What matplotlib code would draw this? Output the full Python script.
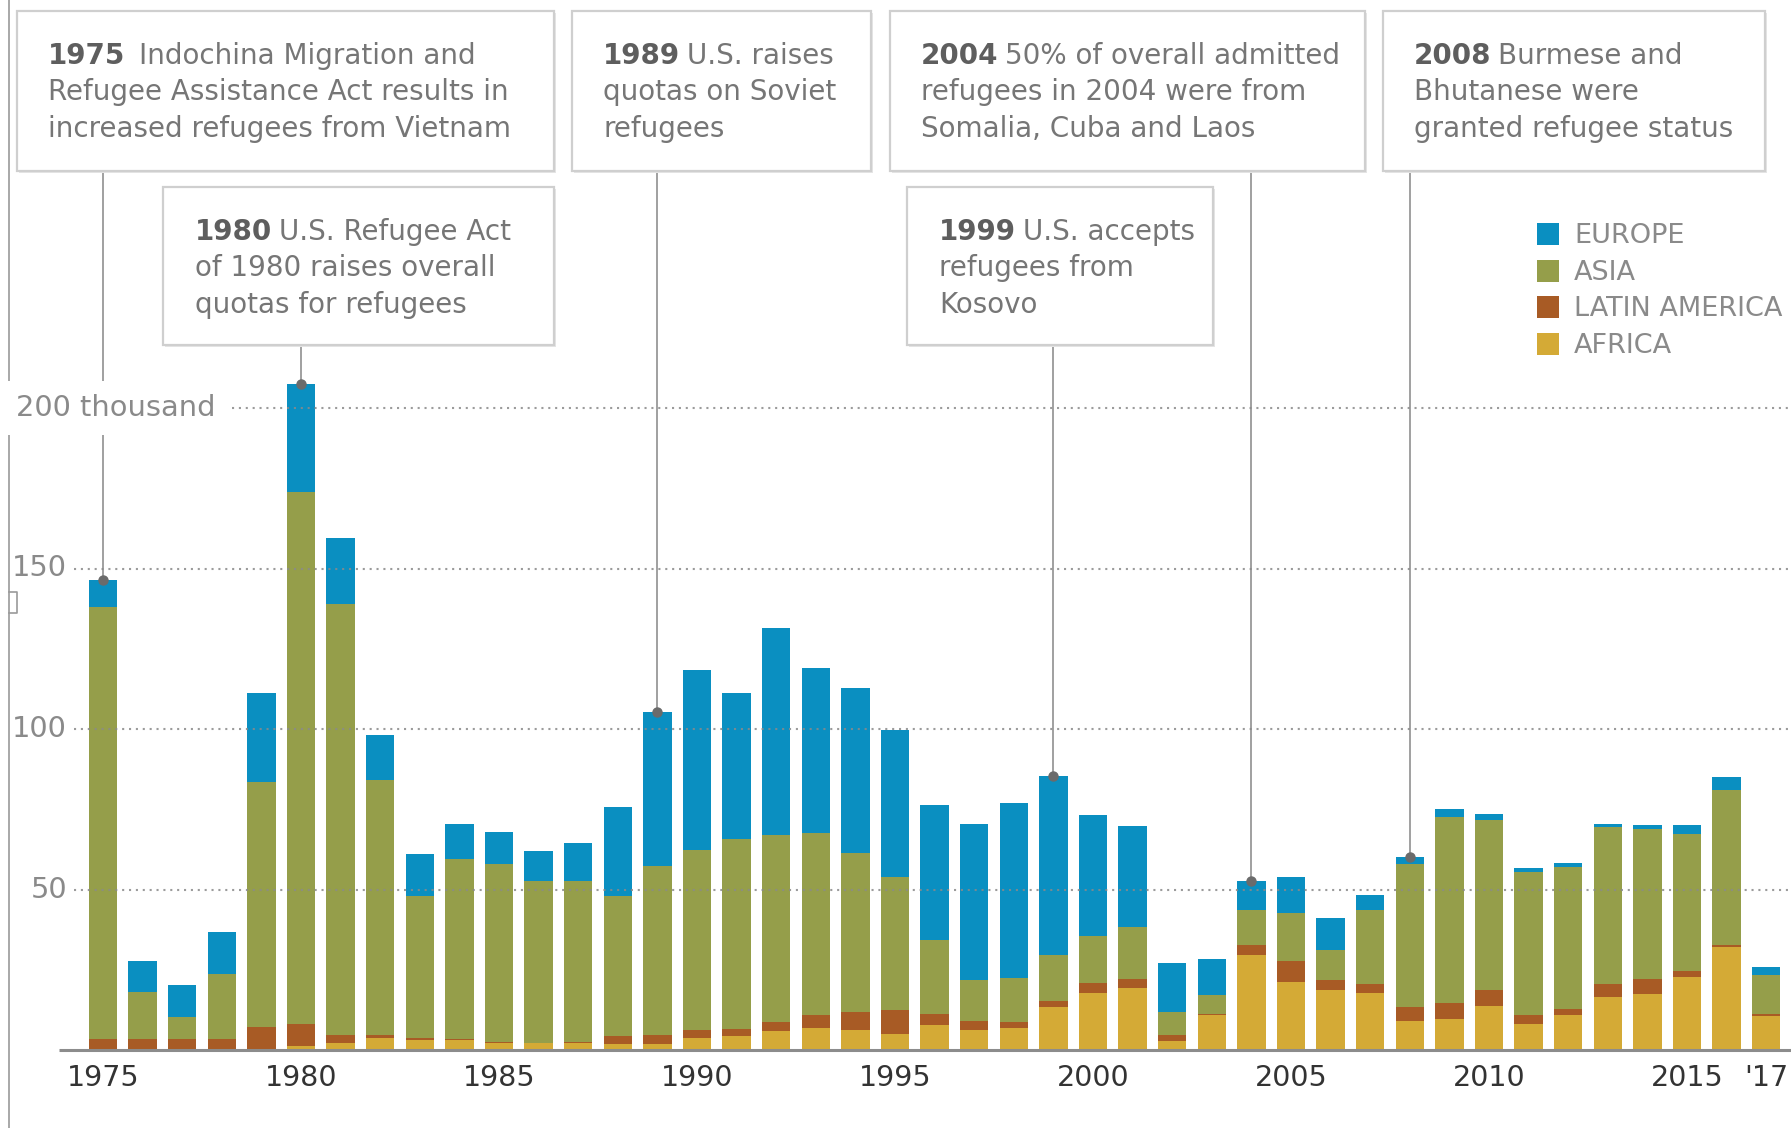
import matplotlib.pyplot as plt
from matplotlib.patches import Rectangle

# U.S. refugee admissions by region (thousands)
years = list(range(1975, 2018))
africa = [0, 0, 0, 0, 0, 1.2, 2.3, 3.8, 3.1, 3.1, 2.3, 2.1, 2.1, 1.9, 2.0,
          3.7, 4.5, 5.8, 7.0, 6.1, 5.0, 7.9, 6.3, 7.0, 13.4, 17.8, 19.2, 2.9,
          11.0, 29.5, 21.2, 18.6, 17.8, 9.0, 9.8, 13.7, 8.1, 10.9, 16.4, 17.6,
          22.8, 32.1, 10.6]
latin = [3.4, 3.4, 3.4, 3.4, 7.2, 6.8, 2.3, 0.8, 0.7, 0.2, 0.1, 0.1, 0.3, 2.5,
         2.7, 2.4, 2.1, 2.8, 4.0, 5.7, 7.6, 3.3, 2.8, 1.6, 1.8, 3.1, 2.8, 1.8,
         0.3, 3.3, 6.5, 3.3, 2.9, 4.5, 4.9, 4.9, 2.8, 2.0, 4.3, 4.4, 1.8, 0.7,
         0.5]
asia = [134.5, 14.7, 7.0, 20.4, 76.3, 165.8, 134.4, 79.6, 44.3, 56.2, 55.4,
        50.6, 50.1, 43.5, 52.6, 56.2, 59.1, 58.4, 56.7, 49.5, 41.3, 23.0, 12.7,
        13.9, 14.3, 14.5, 16.2, 7.1, 5.8, 10.7, 15.0, 9.2, 23.0, 44.3, 58.0,
        53.1, 44.5, 44.2, 48.9, 46.8, 42.7, 48.3, 12.4]
europe = [8.4, 9.5, 9.8, 12.9, 27.7, 33.6, 20.5, 13.9, 13.0, 10.9, 10.0, 9.3,
          12.0, 27.7, 48.1, 56.2, 45.6, 64.6, 51.4, 51.5, 45.9, 42.0, 48.6,
          54.3, 56.0, 37.7, 31.6, 15.4, 11.4, 9.3, 11.1, 10.1, 4.6, 2.4, 2.4,
          1.8, 1.3, 1.1, 0.8, 1.4, 2.9, 4.0, 2.4]

region_names = ['EUROPE', 'ASIA', 'LATIN AMERICA', 'AFRICA']
region_colors = ['#0a8fc1', '#959e4a', '#a85b25', '#d4aa36']

tick_years = [1975, 1980, 1985, 1990, 1995, 2000, 2005, 2010, 2015, 2017]
tick_labels = ['1975', '1980', '1985', '1990', '1995', '2000', '2005', '2010',
               '2015', "'17"]
grid_values = [50, 100, 150, 200]
grid_labels = ['50', '100', '150', '200 thousand']

# annotation: year, bold part, lines, box (left, top, right, bottom) in px
notes = [
    (1975, '1975', ['Indochina Migration and',
                    'Refugee Assistance Act results in',
                    'increased refugees from Vietnam'], (17, 11, 554, 171)),
    (1980, '1980', ['U.S. Refugee Act', 'of 1980 raises overall',
                    'quotas for refugees'], (163, 187, 554, 345)),
    (1989, '1989', ['U.S. raises', 'quotas on Soviet', 'refugees'],
     (572, 11, 871, 171)),
    (2004, '2004', ['50% of overall admitted', 'refugees in 2004 were from',
                    'Somalia, Cuba and Laos'], (890, 11, 1365, 171)),
    (1999, '1999', ['U.S. accepts', 'refugees from', 'Kosovo'],
     (907, 187, 1213, 345)),
    (2008, '2008', ['Burmese and', 'Bhutanese were',
                    'granted refugee status'], (1383, 11, 1765, 171)),
]

W, H = 1791, 1128
fig = plt.figure(figsize=(W / 100, H / 100), dpi=100)
ax = fig.add_axes([0, 0, 1, 1])
PX_YEAR = 39.6
PX_UNIT = 3.21
X0 = 1975 - 103 / PX_YEAR
ax.set_xlim(X0, X0 + W / PX_YEAR)
ax.set_ylim(-(H - 1050) / PX_UNIT, 1050 / PX_UNIT)
ax.axis('off')


def px_x(px):
    return X0 + px / PX_YEAR


def px_y(py):
    return (1050 - py) / PX_UNIT


# stacked bars
bottom = [0.0] * len(years)
for vals, col in zip([africa, latin, asia, europe], region_colors[::-1]):
    ax.bar(years, vals, width=0.72, bottom=bottom, color=col, zorder=2,
           linewidth=0)
    bottom = [b + v for b, v in zip(bottom, vals)]
totals = bottom

# baseline and dotted grid
ax.plot([px_x(59), px_x(W)], [0, 0], color='#8c8c8c', lw=2.2, zorder=4,
        solid_capstyle='butt')
for v, lab in zip(grid_values, grid_labels):
    start = px_x(232) if v == 200 else px_x(74)
    ax.plot([start, px_x(W)], [v, v], color='#8a8a8a', lw=1.5,
            linestyle=(0, (1, 2.3)), zorder=3, alpha=0.85)
    if v == 200:
        ax.text(px_x(16), v, lab, ha='left', va='center', fontsize=20.8,
                color='#8a8a8a', zorder=6,
                bbox=dict(boxstyle='square,pad=0.45', fc='white', ec='none'))
    else:
        ax.text(px_x(67), v, lab, ha='right', va='center', fontsize=20.8,
                color='#8a8a8a', zorder=6)

for yr, lab in zip(tick_years, tick_labels):
    ax.text(yr, px_y(1078), lab, ha='center', va='center', fontsize=20.5,
            color='#333333')

# left frame line with small notch
ax.plot([px_x(9), px_x(9)], [px_y(0), px_y(H)], color='#9a9a9a', lw=1.2,
        zorder=1)
ax.plot([px_x(9), px_x(17), px_x(17), px_x(9)],
        [px_y(592), px_y(592), px_y(613), px_y(613)], color='#9a9a9a',
        lw=1.2)

# annotations
for yr, bold, lines, (l, t, r, b) in notes:
    total = totals[years.index(yr)]
    ax.plot([yr, yr], [total, px_y(b)], color='#a0a0a0', lw=1.4, zorder=1)
    ax.plot(yr, total, 'o', color='#6b6b6b', ms=6.5, zorder=5)
    ax.add_patch(Rectangle((px_x(l + 2), px_y(b + 2)), (r - l) / PX_YEAR,
                           (b - t) / PX_UNIT, fc='#e6e6e6', ec='none',
                           zorder=6))
    ax.add_patch(Rectangle((px_x(l), px_y(b)), (r - l) / PX_YEAR,
                           (b - t) / PX_UNIT, fc='white', ec='#cfcfcf',
                           lw=1.6, zorder=7))
    tx = l + (31 if t < 100 else 32)
    base = t + 53
    bt = ax.text(px_x(tx), px_y(base), bold, ha='left', va='baseline',
                 fontsize=20, fontweight='bold', color='#5e5e5e', zorder=8)
    gap = 10 if yr == 1975 else 5
    ax.annotate(lines[0], xy=(1, 0), xycoords=bt, xytext=(gap, 0),
                textcoords='offset points', ha='left', va='bottom',
                fontsize=20, color='#767676', zorder=8)
    for i, ln in enumerate(lines[1:], start=1):
        ax.text(px_x(tx), px_y(base + 36.5 * i), ln, ha='left',
                va='baseline', fontsize=20, color='#767676', zorder=8)

# legend
for i, (name, col) in enumerate(zip(region_names, region_colors)):
    cy = 234 + 36.7 * i
    ax.add_patch(Rectangle((px_x(1537), px_y(cy + 11)), 22 / PX_YEAR,
                           22 / PX_UNIT, fc=col, ec='none', zorder=5))
    ax.text(px_x(1574), px_y(cy + 9), name, ha='left', va='baseline',
            fontsize=19.5, color='#8a8a8a', zorder=5)

fig.savefig('out.png', dpi=100)
